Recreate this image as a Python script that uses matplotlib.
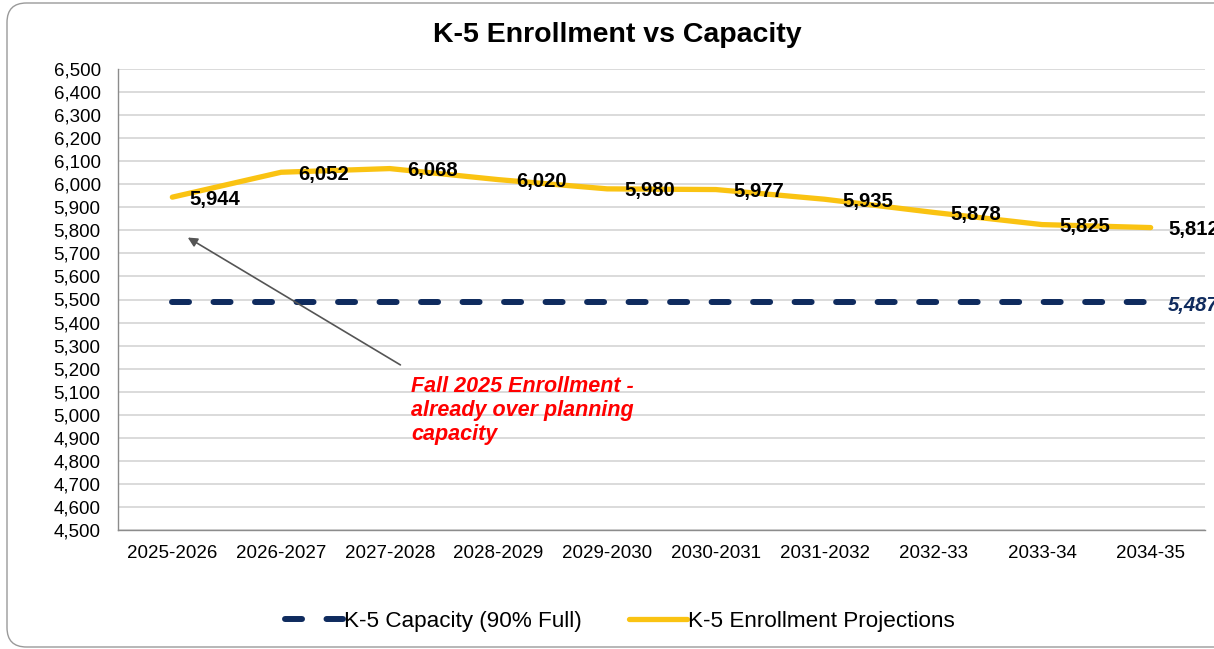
import matplotlib
matplotlib.use("Agg")
import matplotlib.pyplot as plt
from matplotlib.patches import FancyBboxPatch
from matplotlib.ticker import FuncFormatter, MultipleLocator

categories = ["2025-2026", "2026-2027", "2027-2028", "2028-2029", "2029-2030",
              "2030-2031", "2031-2032", "2032-33", "2033-34", "2034-35"]
enrollment = [5944, 6052, 6068, 6020, 5980, 5977, 5935, 5878, 5825, 5812]
capacity = [5487] * len(categories)

plt.rcParams['font.family'] = ['Liberation Sans', 'DejaVu Sans']

W, H = 1214, 649
fig = plt.figure(figsize=(W / 100, H / 100), dpi=100)

# outer rounded frame (right side runs off the image)
frame = FancyBboxPatch((7 / W, 2 / H), (1260 - 7) / W, (646 - 2) / H,
                       boxstyle="round,pad=0,rounding_size=0.016",
                       transform=fig.transFigure, fill=False,
                       edgecolor="#9a9a9a", linewidth=1.0, clip_on=False,
                       mutation_aspect=W / H)
fig.patches.append(frame)

ax = fig.add_axes([118 / W, 1 - 530 / H, (1205 - 118) / W, (530 - 69) / H])
x = list(range(len(categories)))

cap_lw = 4.3
ax.plot(x, capacity, color="#0F2B5E", linewidth=cap_lw,
        linestyle=(0, (2.85, 4.1)), dash_capstyle="round",
        label="K-5 Capacity (90% Full)", zorder=3)
ax.plot(x, enrollment, color="#FAC312", linewidth=3.8, solid_capstyle="round",
        label="K-5 Enrollment Projections", zorder=4)

for xi, v in zip(x, enrollment):
    ax.annotate(f"{v:,}", (xi, v), xytext=(12.5, -1.5), textcoords="offset points",
                ha="left", va="center", fontsize=14.6, fontweight="bold",
                color="black", annotation_clip=False, zorder=5)
ax.annotate(f"{capacity[-1]:,}", (x[-1], capacity[-1]), xytext=(12, -2),
            textcoords="offset points", ha="left", va="center", fontsize=14.6,
            fontweight="bold", fontstyle="italic", color="#0F2B5E",
            annotation_clip=False)

ax.set_xlim(-0.5, len(categories) - 0.5)
ax.set_ylim(4500, 6500)
ax.yaxis.set_major_locator(MultipleLocator(100))
ax.yaxis.set_major_formatter(FuncFormatter(lambda v, p: f"{int(v):,}"))
ax.set_xticks(x)
ax.set_xticklabels(categories)
ax.tick_params(axis="y", length=0, pad=12.5, labelsize=13.5)
ax.tick_params(axis="x", length=0, pad=11, labelsize=13.5)
ax.grid(axis="y", color="#d4d4d4", linewidth=1.2)
ax.set_axisbelow(True)
for s in ["top", "right"]:
    ax.spines[s].set_visible(False)
for s in ["left", "bottom"]:
    ax.spines[s].set_color("#8c8c8c")
    ax.spines[s].set_linewidth(1)

fig.text(617 / W, 1 - 35 / H, "K-5 Enrollment vs Capacity", fontsize=20.5,
         fontweight="bold", ha="center", va="center")

# annotation with arrow
ax.annotate("", xy=(0.12, 5775), xytext=(2.12, 5210),
            arrowprops=dict(arrowstyle="-|>", color="#555555", lw=1.2,
                            mutation_scale=14))
ax.text(2.2, 5168, "Fall 2025 Enrollment -\nalready over planning\ncapacity",
        color="#FF0000", fontsize=15.5, fontweight="bold", fontstyle="italic",
        ha="left", va="top", linespacing=1.2)

leg = fig.legend(loc="center", bbox_to_anchor=(620 / W, 1 - 621 / H), ncol=2,
                 frameon=False, fontsize=16.2, handlelength=2.58,
                 columnspacing=2.1, handletextpad=0.05)

fig.savefig("out.png", dpi=100)
